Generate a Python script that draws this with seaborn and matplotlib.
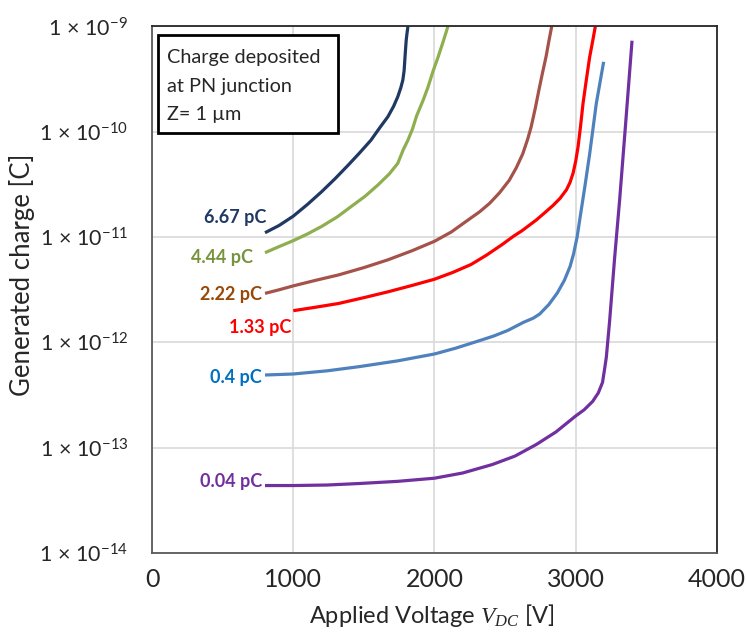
import numpy as np
import pandas as pd
import matplotlib
matplotlib.use("Agg")
import matplotlib.pyplot as plt
import seaborn as sns
from matplotlib.ticker import FixedLocator, FuncFormatter, NullLocator
from matplotlib.patches import Rectangle

# Deposited charge for each curve
series_names = ["6.67 pC", "4.44 pC", "2.22 pC", "1.33 pC", "0.4 pC", "0.04 pC"]

# Applied voltage [V] and generated charge [C] per deposited charge
v_667 = [800, 900, 1000, 1100, 1200, 1300, 1390, 1470, 1550, 1614, 1670, 1710,
         1740, 1762, 1776, 1785, 1790, 1795, 1800, 1806, 1812]
q_667 = [1.10e-11, 1.29e-11, 1.58e-11, 2.04e-11, 2.69e-11, 3.63e-11, 4.84e-11,
         6.31e-11, 8.32e-11, 1.10e-10, 1.39e-10, 1.74e-10, 2.15e-10, 2.63e-10,
         3.10e-10, 3.80e-10, 4.81e-10, 6.03e-10, 7.45e-10, 8.71e-10, 1.0e-9]

v_444 = [800, 900, 1000, 1100, 1200, 1310, 1410, 1510, 1600, 1680, 1740, 1779,
         1812, 1845, 1873, 1920, 1953, 1991, 2023, 2060, 2095]
q_444 = [7.11e-12, 8.13e-12, 9.25e-12, 1.07e-11, 1.26e-11, 1.55e-11, 1.95e-11,
         2.45e-11, 3.13e-11, 3.98e-11, 5.01e-11, 6.76e-11, 8.32e-11, 1.07e-10,
         1.41e-10, 2.00e-10, 2.63e-10, 3.80e-10, 5.01e-10, 7.08e-10, 1.0e-9]

v_222 = [800, 900, 1000, 1160, 1320, 1500, 1670, 1840, 2000, 2120, 2240, 2320,
         2390, 2460, 2530, 2580, 2625, 2660, 2685, 2715, 2740, 2765, 2790, 2810, 2830]
q_222 = [2.92e-12, 3.16e-12, 3.44e-12, 3.89e-12, 4.37e-12, 5.13e-12, 6.08e-12,
         7.41e-12, 9.12e-12, 1.12e-11, 1.46e-11, 1.74e-11, 2.09e-11, 2.63e-11,
         3.47e-11, 4.57e-11, 6.17e-11, 8.51e-11, 1.12e-10, 1.70e-10, 2.51e-10,
         3.63e-10, 5.16e-10, 7.24e-10, 1.0e-9]

v_133 = [1000, 1160, 1320, 1500, 1670, 1840, 2000, 2130, 2260, 2370, 2480, 2560,
         2620, 2720, 2780, 2840, 2890, 2935, 2960, 2982, 3000, 3017, 3035, 3052,
         3075, 3099, 3120, 3139]
q_133 = [2.00e-12, 2.16e-12, 2.34e-12, 2.66e-12, 3.02e-12, 3.47e-12, 3.98e-12,
         4.62e-12, 5.50e-12, 6.76e-12, 8.51e-12, 1.02e-11, 1.15e-11, 1.45e-11,
         1.70e-11, 2.00e-11, 2.34e-11, 2.82e-11, 3.31e-11, 4.07e-11, 5.25e-11,
         7.24e-11, 1.15e-10, 1.86e-10, 3.09e-10, 5.13e-10, 7.24e-10, 1.0e-9]

v_04 = [800, 1000, 1240, 1470, 1740, 2000, 2150, 2300, 2420, 2520, 2630, 2700,
        2745, 2810, 2870, 2920, 2960, 2985, 3010, 3035, 3065, 3099, 3146, 3198]
q_04 = [4.90e-13, 5.01e-13, 5.37e-13, 5.89e-13, 6.68e-13, 7.76e-13, 8.81e-13,
        1.02e-12, 1.15e-12, 1.30e-12, 1.55e-12, 1.70e-12, 1.86e-12, 2.29e-12,
        2.95e-12, 3.89e-12, 5.25e-12, 6.92e-12, 1.0e-11, 1.66e-11, 3.02e-11,
        6.17e-11, 1.86e-10, 4.62e-10]

v_004 = [800, 1000, 1240, 1470, 1740, 2000, 2200, 2410, 2570, 2720, 2860, 3000,
         3060, 3120, 3160, 3190, 3205, 3217, 3240, 3275, 3311, 3355, 3399]
q_004 = [4.37e-14, 4.37e-14, 4.42e-14, 4.57e-14, 4.79e-14, 5.13e-14, 5.75e-14,
         6.92e-14, 8.32e-14, 1.07e-13, 1.41e-13, 2.00e-13, 2.29e-13, 2.75e-13,
         3.31e-13, 4.17e-13, 5.62e-13, 7.24e-13, 1.58e-12, 6.17e-12, 2.24e-11,
         1.26e-10, 7.33e-10]

voltages = [v_667, v_444, v_222, v_133, v_04, v_004]
charges = [q_667, q_444, q_222, q_133, q_04, q_004]

line_colors = ["#1F3864", "#8FAE50", "#A5524A", "#FF0000", "#4F81BD", "#7030A0"]
label_colors = ["#1F3864", "#77933C", "#984807", "#FF0000", "#0070C0", "#7030A0"]

# Label anchor (right edge) for each curve
label_v = [812, 718, 777, 989, 779, 777]
label_q = [1.52e-11, 6.46e-12, 2.82e-12, 1.38e-12, 4.68e-13, 4.79e-14]

x_ticks = [0, 1000, 2000, 3000, 4000]
y_ticks = [1e-14, 1e-13, 1e-12, 1e-11, 1e-10, 1e-9]

frames = []
for name, v, q in zip(series_names, voltages, charges):
    frames.append(pd.DataFrame({"V": v, "Q": q, "series": name}))
df = pd.concat(frames, ignore_index=True)

sns.set_style("white")
plt.rcParams["font.family"] = ["Lato", "DejaVu Sans"]
plt.rcParams["mathtext.fontset"] = "custom"
plt.rcParams["mathtext.rm"] = "Lato"
plt.rcParams["mathtext.it"] = "Liberation Serif:italic"
plt.rcParams["mathtext.bf"] = "Lato:bold"

fig = plt.figure(figsize=(7.46, 6.37), dpi=100)
ax = fig.add_axes([0.2038, 0.1319, 0.7572, 0.8265])
ax.set_yscale("log")

sns.lineplot(data=df, x="V", y="Q", hue="series",
             palette=dict(zip(series_names, line_colors)),
             sort=False, estimator=None, linewidth=2.3, legend=False, ax=ax,
             solid_joinstyle="round", solid_capstyle="butt")

ax.set_xlim(0, 4000)
ax.set_ylim(1e-14, 1e-9)
ax.xaxis.set_major_locator(FixedLocator(x_ticks))
ax.yaxis.set_major_locator(FixedLocator(y_ticks))
ax.yaxis.set_minor_locator(NullLocator())
ax.yaxis.set_major_formatter(FuncFormatter(
    lambda v, _: r"$\mathregular{1\,\times\,10^{%d}}$" % round(np.log10(v))))

ax.grid(True, which="major", color="#D9D9D9", linewidth=1.2)
ax.set_axisbelow(True)
ax.tick_params(axis="both", length=0)
ax.tick_params(axis="x", labelsize=18, pad=11)
ax.tick_params(axis="y", labelsize=15.5, pad=17)

for side in ["left", "bottom"]:
    ax.spines[side].set_color("#595959")
    ax.spines[side].set_linewidth(1.3)
for side in ["top", "right"]:
    ax.spines[side].set_color("#262626")
    ax.spines[side].set_linewidth(1.3)

ax.set_xlabel(r"Applied Voltage $V_{DC}$ [V]", fontsize=17)
ax.set_ylabel("Generated charge [C]", fontsize=18.5)
ax.xaxis.set_label_coords(0.495, -0.094)
ax.yaxis.set_label_coords(-0.207, 0.529)

for name, lv, lq, c in zip(series_names, label_v, label_q, label_colors):
    ax.text(lv, lq, name, color=c, fontsize=13, fontweight="bold",
            ha="right", va="center")

# Annotation box in the upper-left corner
ax.add_patch(Rectangle((0.0106, 0.7977), 0.318, 0.1863, transform=ax.transAxes,
                       facecolor="white", edgecolor="black", linewidth=2, zorder=5))
for yy, line in zip([0.930, 0.876, 0.8224],
                    ["Charge deposited", "at PN junction", "Z= 1 µm"]):
    ax.text(0.0265, yy, line, transform=ax.transAxes, fontsize=14.3,
            ha="left", va="baseline", zorder=6)

fig.savefig("out.png", dpi=100)
